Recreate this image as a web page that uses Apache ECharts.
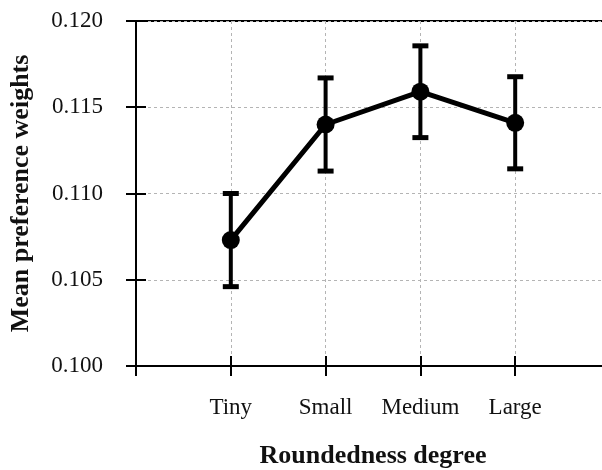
<!DOCTYPE html>
<html>
<head>
<meta charset="utf-8">
<style>
  html, body { margin: 0; padding: 0; background: #fff; }
  #chart { width: 602px; height: 470px; }
</style>
<script src="https://cdn.jsdelivr.net/npm/echarts@6/dist/echarts.min.js"></script>
</head>
<body>
<div id="chart"></div>
<script>
// Mean preference weights by roundedness degree, with error bars
const categories = ['Tiny', 'Small', 'Medium', 'Large'];
const means = [0.1073, 0.1140, 0.1159, 0.1141];
const errors = [0.0027, 0.0027, 0.00266, 0.00267];
const yTicks = { min: 0.100, max: 0.120, step: 0.005 };

// Empty slots on both ends give the axis its margins
const axisCats = [''].concat(categories, ['']);

const font = '"Liberation Serif", "Times New Roman", serif';
const ink = '#000';
const textInk = '#111';

const lineData = categories.map((c, i) => [c, means[i]]);
const barData = categories.map((c, i) => [c, means[i] - errors[i], means[i] + errors[i]]);

const chart = echarts.init(document.getElementById('chart'), null, { renderer: 'canvas' });

const tick = (inside) => ({ show: true, inside: inside, length: 10, lineStyle: { color: ink, width: 2 } });
const dotted = { show: true, lineStyle: { color: '#b4b4b4', width: 1, type: [3, 3] } };

chart.setOption({
  animation: false,
  backgroundColor: '#fff',
  grid: {
    left: 136, top: 21, width: 474, height: 345,
    outerBoundsMode: 'none', containLabel: false,
    show: true, borderColor: ink, borderWidth: 2, backgroundColor: 'transparent'
  },
  xAxis: [
    {
      type: 'category', data: axisCats, boundaryGap: false, position: 'bottom',
      axisLine: { show: true, lineStyle: { color: ink, width: 2 } },
      axisTick: tick(false),
      axisLabel: { color: textInk, fontFamily: font, fontSize: 23, margin: 30, interval: 0 },
      splitLine: dotted,
      name: 'Roundedness degree', nameLocation: 'middle', nameGap: 77,
      nameTextStyle: { color: textInk, fontFamily: font, fontSize: 26, fontWeight: 'bold' }
    },
    {
      type: 'category', data: axisCats, boundaryGap: false, position: 'bottom',
      axisLine: { show: false }, axisTick: tick(true),
      axisLabel: { show: false }, splitLine: { show: false }
    }
  ],
  yAxis: [
    {
      type: 'value', min: yTicks.min, max: yTicks.max, interval: yTicks.step, position: 'left',
      axisLine: { show: true, lineStyle: { color: ink, width: 2 } },
      axisTick: tick(false),
      axisLabel: { color: textInk, fontFamily: font, fontSize: 23, margin: 33, formatter: v => v.toFixed(3) },
      splitLine: dotted,
      name: 'Mean preference weights', nameLocation: 'middle', nameGap: 102,
      nameTextStyle: { color: textInk, fontFamily: font, fontSize: 26, fontWeight: 'bold' }
    },
    {
      type: 'value', min: yTicks.min, max: yTicks.max, interval: yTicks.step, position: 'left',
      axisLine: { show: false }, axisTick: tick(true),
      axisLabel: { show: false }, splitLine: { show: false }
    }
  ],
  series: [
    {
      type: 'custom',
      xAxisIndex: 0, yAxisIndex: 0,
      data: barData,
      z: 3,
      renderItem: function (params, api) {
        const x = api.value(0);
        const lo = api.coord([x, api.value(1)]);
        const hi = api.coord([x, api.value(2)]);
        const half = 8;
        const style = { stroke: ink, lineWidth: 4, fill: null };
        const capStyle = { stroke: ink, lineWidth: 5, fill: null };
        return {
          type: 'group',
          children: [
            { type: 'line', shape: { x1: lo[0], y1: lo[1], x2: hi[0], y2: hi[1] }, style: style },
            { type: 'line', shape: { x1: hi[0] - half, y1: hi[1], x2: hi[0] + half, y2: hi[1] }, style: capStyle },
            { type: 'line', shape: { x1: lo[0] - half, y1: lo[1], x2: lo[0] + half, y2: lo[1] }, style: capStyle }
          ]
        };
      }
    },
    {
      type: 'line',
      xAxisIndex: 0, yAxisIndex: 0,
      data: lineData,
      z: 4,
      symbol: 'circle', symbolSize: 18,
      lineStyle: { color: ink, width: 5 },
      itemStyle: { color: ink }
    }
  ]
});
</script>
</body>
</html>
